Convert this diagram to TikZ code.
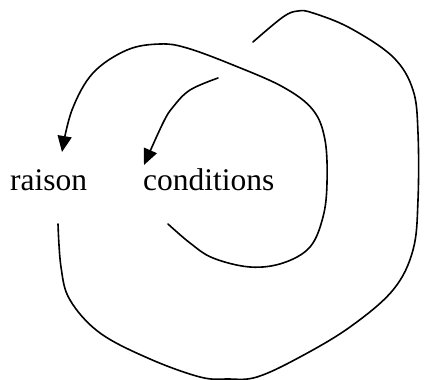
\documentclass[tikz,border=0pt]{standalone}
\usepackage{fontspec}
\setmainfont{Liberation Serif}
\usetikzlibrary{arrows.meta}
\begin{document}
\begin{tikzpicture}[x=1pt,y=-1pt,
  lbl/.style={anchor=base west,inner sep=0pt,font=\fontsize{31.5}{36}\selectfont},
  curve/.style={line width=1.6pt,line cap=round,line join=round},
  arr/.style={curve,-{Triangle[length=16pt,width=14pt]}}]
\useasboundingbox (0,0) rectangle (424,380);
\node[lbl] (raison) at (10,190) {raison};
\node[lbl] (cond) at (143,190) {conditions};
% outer spiral
\coordinate (o1) at (58,224);
\coordinate (o2) at (253,42);
\draw[curve] plot[smooth,tension=0.6] coordinates {(o1) (61,267) (70,300) (100,333) (150,359) (200,377) (228,379) (257,377) (300,357) (350,327) (393,290) (413,250) (418,200) (418,133) (413,90) (393,57) (350,28) (313,13) (298,11) (283,17) (o2)};
% middle spiral
\coordinate (m1) at (168,224);
\coordinate (m2) at (62,152);
\draw[arr] plot[smooth,tension=0.6] coordinates {(m1) (190,243) (213,258) (250,267) (283,263) (310,247) (323,217) (327,183) (325,140) (313,110) (283,87) (233,65) (187,48) (160,44) (127,50) (93,73) (72,110) (m2)};
% inner spiral
\coordinate (i1) at (218,78);
\coordinate (i2) at (144,165);
\draw[arr] plot[smooth,tension=0.6] coordinates {(i1) (190,90) (173,107) (163,123) (i2)};
\end{tikzpicture}
\end{document}
